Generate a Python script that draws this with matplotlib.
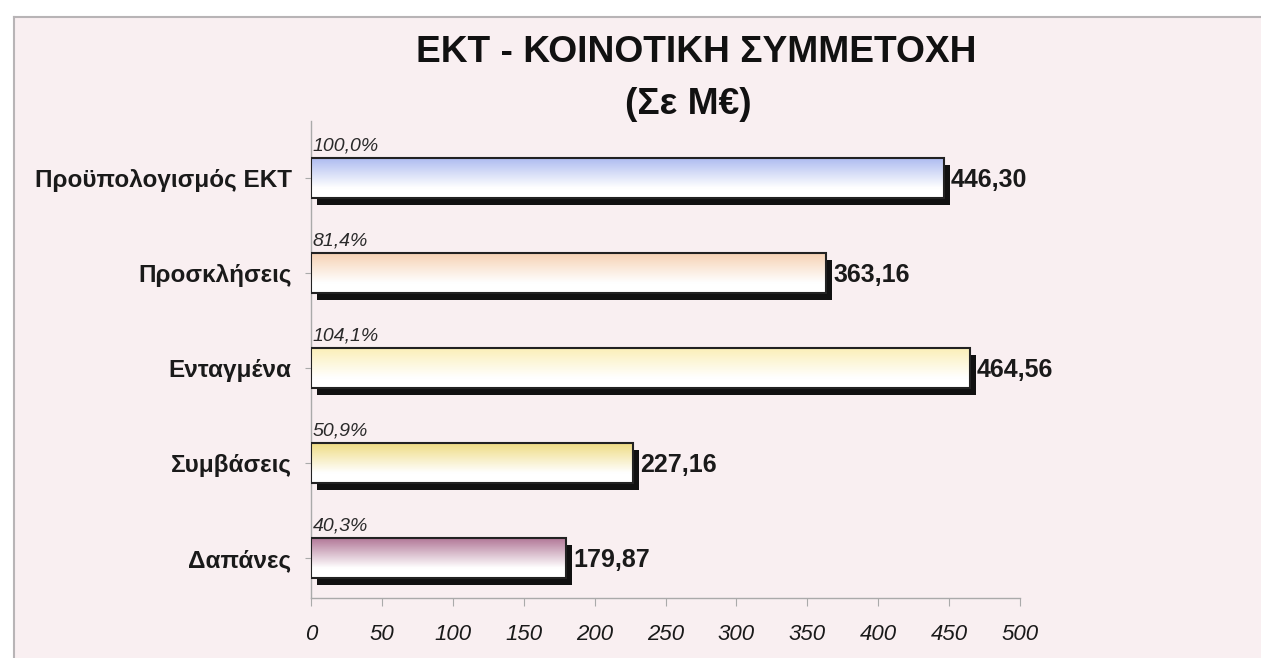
import numpy as np
import matplotlib
matplotlib.use('Agg')
import matplotlib.pyplot as plt
from matplotlib.colors import to_rgb
from matplotlib.patches import Rectangle

# ── Data ─────────────────────────────────────────────────────────────────────
CATEGORIES = ['Προϋπολογισμός ΕΚΤ', 'Προσκλήσεις', 'Ενταγμένα', 'Συμβάσεις', 'Δαπάνες']
VALUES = [446.30, 363.16, 464.56, 227.16, 179.87]
PERCENTS = ['100,0%', '81,4%', '104,1%', '50,9%', '40,3%']
XTICKS = [0, 50, 100, 150, 200, 250, 300, 350, 400, 450, 500]
BAR_TOP_COLORS = ['#aebcf0', '#f6d2b4', '#fbefb8', '#efdc84', '#b27898']

FONT = ['Liberation Sans', 'DejaVu Sans']
BG = '#f9eff1'

fig = plt.figure(figsize=(12.61, 6.58), dpi=100, facecolor='white')

# chart frame (light pink panel with gray top/left edge)
frame = fig.add_axes([14 / 1261, 0, 1 - 14 / 1261, 1 - 17 / 658])
frame.set_facecolor(BG)
frame.set_xticks([]); frame.set_yticks([])
for s in ['right', 'bottom']:
    frame.spines[s].set_visible(False)
for s in ['top', 'left']:
    frame.spines[s].set_color('#b8b4b6')
    frame.spines[s].set_linewidth(1.5)

ax = fig.add_axes([311 / 1261, 60 / 658, 709 / 1261, 477 / 658])
ax.patch.set_alpha(0)

pos = np.arange(len(CATEGORIES))
h = 0.42
sx, sy = 4.5, 0.07   # shadow offset

for y, v, col, pct in zip(pos, VALUES, BAR_TOP_COLORS, PERCENTS):
    # shadow
    ax.add_patch(Rectangle((sx, y - h / 2 + sy), v, h, facecolor='#111111',
                           edgecolor='none', zorder=2))
    # gradient fill: colour at top fading to white
    c = np.array(to_rgb(col))
    t = np.linspace(0, 1, 64)
    w = np.clip(t / 0.75, 0, 1)[:, None]
    grad = c[None, :] * (1 - w) + np.ones(3)[None, :] * w
    ax.imshow(grad[:, None, :], extent=(0, v, y + h / 2, y - h / 2),
              aspect='auto', zorder=3, interpolation='bilinear')
    ax.add_patch(Rectangle((0, y - h / 2), v, h, facecolor='none',
                           edgecolor='#222222', linewidth=1.5, zorder=4))
    ax.text(v + 5, y + 0.02, f'{v:.2f}'.replace('.', ','), ha='left', va='center',
            fontsize=18, family=FONT, fontweight='bold', color='#1a1a1a', zorder=5)
    ax.text(1, y - 0.34, pct, ha='left', va='center', fontsize=14,
            family=FONT, style='italic', color='#2a2a2a', zorder=5)

ax.set_xlim(0, 500)
ax.set_ylim(4.42, -0.6)
ax.set_yticks(pos)
ax.set_yticklabels(CATEGORIES, family=FONT, fontsize=17.5, fontweight='bold',
                   color='#1a1a1a')
ax.set_xticks(XTICKS)
ax.set_xticklabels([str(x) for x in XTICKS], family=FONT, fontsize=16,
                   style='italic', color='#1a1a1a')
ax.tick_params(axis='y', length=4, color='#aaaaaa', pad=10)
ax.tick_params(axis='x', length=6, color='#aaaaaa', pad=13)
for s in ['top', 'right']:
    ax.spines[s].set_visible(False)
for s in ['left', 'bottom']:
    ax.spines[s].set_color('#aaaaaa')
    ax.spines[s].set_linewidth(1.0)

fig.text(696 / 1261, 1 - 52 / 658, 'ΕΚΤ - ΚΟΙΝΟΤΙΚΗ ΣΥΜΜΕΤΟΧΗ', ha='center',
         va='center', fontsize=26.7, fontweight='bold', family=FONT, color='#111111')
fig.text(688 / 1261, 1 - 105 / 658, '(Σε Μ€)', ha='center', va='center',
         fontsize=26.7, fontweight='bold', family=FONT, color='#111111')

fig.savefig('out.png', dpi=100, facecolor='white')
